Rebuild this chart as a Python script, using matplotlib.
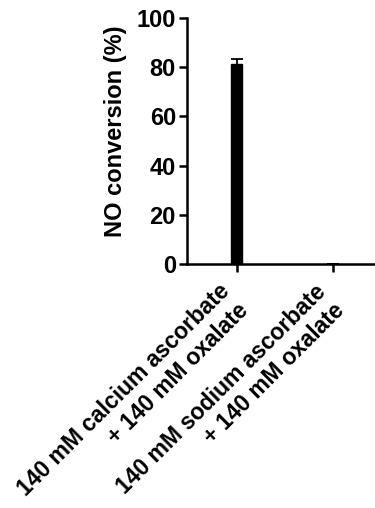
import matplotlib
matplotlib.use("Agg")
import matplotlib.pyplot as plt
import matplotlib.transforms as mtransforms

categories = ["140 mM calcium ascorbate\n+ 140 mM oxalate",
              "140 mM sodium ascorbate\n+ 140 mM oxalate"]
values = [81.5, 0.2]
errors = [2.0, 0.0]
yticks = [0, 20, 40, 60, 80, 100]

plt.rcParams['font.family'] = ['Liberation Sans', 'DejaVu Sans']
plt.rcParams['font.weight'] = 'bold'

fig = plt.figure(figsize=(3.75, 5.08), dpi=100)
ax = fig.add_axes([187/375, 1-264/508, 1-187/375, (264-18)/508])

x = list(range(len(categories)))
ax.bar(x, values, width=0.115, color='black', edgecolor='black',
       yerr=errors, capsize=4.5, error_kw=dict(elinewidth=1.3, capthick=1.3, ecolor='black'))

ax.set_xlim(-0.52, 1.44)
ax.set_ylim(0, 100)
ax.set_yticks(yticks)
ax.set_xticks(x)
ax.tick_params(axis='y', labelsize=17, width=1.8, length=6, pad=2)
ax.tick_params(axis='x', width=1.8, length=6, pad=4)
ax.set_xticklabels(categories, rotation=45, ha='right', rotation_mode='anchor',
                   multialignment='right', fontsize=16.5, fontweight='bold')
offset = mtransforms.ScaledTranslation(-0.19, -0.02, fig.dpi_scale_trans)
for lbl in ax.get_xticklabels():
    lbl.set_transform(lbl.get_transform() + offset)
for lbl in ax.get_yticklabels():
    lbl.set_fontweight('bold')
ax.set_ylabel("NO conversion (%)", fontsize=17, fontweight='bold')
ax.yaxis.set_label_coords(-0.32, 0.54)

ax.spines['top'].set_visible(False)
ax.spines['right'].set_visible(False)
ax.spines['left'].set_linewidth(1.8)
ax.spines['bottom'].set_linewidth(1.8)

fig.savefig("out.png", dpi=100)
